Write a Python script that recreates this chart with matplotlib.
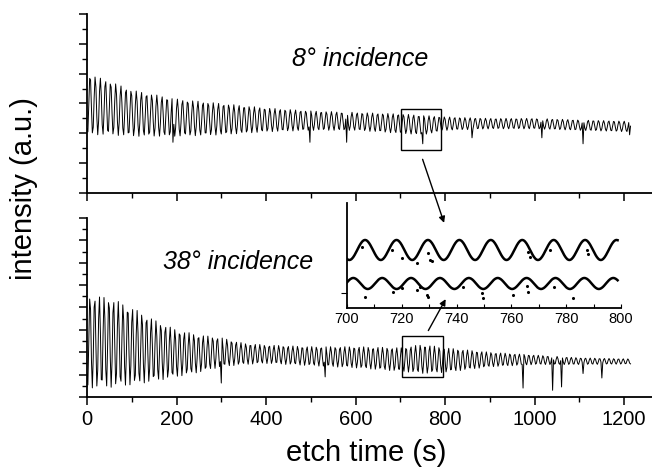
import numpy as np
import matplotlib
matplotlib.use("Agg")
import matplotlib.pyplot as plt
from matplotlib.patches import Rectangle
from matplotlib.ticker import MultipleLocator

plt.rcParams["font.family"] = ["Liberation Sans", "DejaVu Sans"]

# --- values ---
# 8 deg incidence: envelope of the fast oscillation (upper / lower), a.u.
t_env8 = [0, 50, 100, 200, 300, 400, 500, 600, 700, 750, 800, 900, 1000, 1100, 1215]
upper8 = [8.0, 7.5, 6.9, 6.3, 6.0, 5.7, 5.5, 5.4, 5.3, 5.2, 5.1, 5.0, 5.0, 4.9, 4.8]
lower8 = [3.9, 3.9, 3.8, 3.8, 3.9, 4.1, 4.2, 4.2, 4.0, 3.9, 4.2, 4.3, 4.3, 4.2, 4.1]
period8 = 11.47      # s, from the inset
peak8 = 706.6        # s, a peak position from the inset
spike_t8 = [193, 498, 581, 751, 860, 1017, 1108, 1213]
spike_v8 = [3.4, 3.4, 3.4, 3.3, 3.7, 3.7, 3.3, 3.9]

# 38 deg incidence
t_env38 = [0, 50, 100, 150, 200, 250, 300, 350, 400, 500, 600, 700, 750, 800, 900, 1000, 1100, 1215]
upper38 = [9.1, 8.9, 8.0, 6.9, 6.0, 5.55, 5.3, 4.8, 4.65, 4.5, 4.5, 4.4, 4.7, 4.4, 4.0, 3.75, 3.5, 3.4]
lower38 = [0.8, 0.85, 1.07, 1.4, 1.8, 2.2, 2.7, 2.9, 3.0, 2.8, 2.6, 2.3, 2.1, 2.2, 2.7, 2.9, 2.9, 2.95]
period38 = 10.54
peak38 = 702.3
spike_t38 = [300, 532, 975, 1041, 1061, 1108, 1150]
spike_v38 = [1.25, 1.8, 0.8, 0.6, 0.9, 2.1, 1.7]

# inset (700-800 s), rescaled traces
inset_mid = [5.8, 2.45]
inset_amp = [1.0, 0.55]
out_t_top = [705.4, 716.3, 720.0, 725.4, 729.7, 730.3, 730.9, 766.2, 766.8, 774.1, 787.5, 788.1]
out_v_top = [6.13, 5.8, 4.97, 4.47, 5.47, 4.8, 4.73, 5.63, 5.13, 5.8, 5.8, 5.4]
out_t_bot = [706.6, 716.9, 720.0, 725.4, 726.6, 729.1, 729.7, 742.5, 749.2, 749.8, 760.7, 765.6, 766.2, 775.4, 782.6]
out_v_bot = [1.07, 1.63, 1.97, 1.8, 2.13, 1.3, 1.07, 2.13, 1.47, 0.97, 1.3, 2.2, 1.63, 2.07, 0.97]


def trace(t, t_env, up, lo, period, t0, spike_t=(), spike_v=()):
    up_i = np.interp(t, t_env, up)
    lo_i = np.interp(t, t_env, lo)
    y = (up_i + lo_i) / 2 + (up_i - lo_i) / 2 * np.cos(2 * np.pi * (t - t0) / period)
    for ts, vs in zip(spike_t, spike_v):
        y[np.argmin(np.abs(t - ts))] = vs
    return y


def style(ax):
    ax.spines["top"].set_visible(False)
    ax.spines["right"].set_visible(False)
    for s in ("left", "bottom"):
        ax.spines[s].set_linewidth(1.3)


fig = plt.figure(figsize=(6.52, 4.69), dpi=100)
ax_top = fig.add_axes([0.1334, 0.5885, 0.8666, 0.3817])
ax_bot = fig.add_axes([0.1334, 0.1535, 0.8666, 0.3817])

t = np.arange(0, 1216, 2.0)
y8 = trace(t, t_env8, upper8, lower8, period8, peak8, spike_t8, spike_v8)
y38 = trace(t, t_env38, upper38, lower38, period38, peak38, spike_t38, spike_v38)

ax_top.plot(t, y8, color="k", lw=0.7)
ax_bot.plot(t, y38, color="k", lw=0.7)

for ax, ylim in ((ax_top, 12), (ax_bot, 16)):
    style(ax)
    ax.set_xlim(0, 1262)
    ax.set_ylim(0, ylim)
    ax.xaxis.set_major_locator(MultipleLocator(200))
    ax.xaxis.set_minor_locator(MultipleLocator(100))
    ax.yaxis.set_major_locator(MultipleLocator(2))
    ax.yaxis.set_minor_locator(MultipleLocator(1))
    ax.tick_params(which="major", direction="out", length=6, width=1.1, labelsize=14.5, pad=3)
    ax.tick_params(which="minor", direction="out", length=3.5, width=1.0)
    ax.set_yticklabels([])

ax_top.set_xticklabels([])

ax_top.text(610, 9.0, "8° incidence", style="italic", fontsize=18, ha="center", va="center")
ax_bot.text(337, 12.1, "38° incidence", style="italic", fontsize=18, ha="center", va="center")

ax_top.add_patch(Rectangle((701, 2.87), 90, 2.73, fill=False, lw=1.0, ec="k"))
ax_bot.add_patch(Rectangle((704, 1.79), 91, 3.67, fill=False, lw=1.0, ec="k"))

fig.text(0.037, 0.597, "intensity (a.u.)", rotation=90, fontsize=21, ha="center", va="center")
fig.text(0.562, 0.034, "etch time (s)", fontsize=21, ha="center", va="center")

# inset
ax_in = fig.add_axes([0.5322, 0.3433, 0.4203, 0.2239])
ax_in.set_facecolor("white")
style(ax_in)
ti = np.arange(700, 799, 0.25)
top_in = inset_mid[0] + inset_amp[0] * np.cos(2 * np.pi * (ti - peak8) / period8)
bot_in = inset_mid[1] + inset_amp[1] * np.cos(2 * np.pi * (ti - peak38) / period38)
ax_in.plot(ti, top_in, color="k", lw=1.8)
ax_in.plot(ti, bot_in, color="k", lw=1.8)
ax_in.scatter(out_t_top, out_v_top, s=1.5, color="k")
ax_in.scatter(out_t_bot, out_v_bot, s=1.5, color="k")
ax_in.set_xlim(700, 800)
ax_in.set_ylim(0, 10.5)
ax_in.xaxis.set_major_locator(MultipleLocator(20))
ax_in.xaxis.set_minor_locator(MultipleLocator(10))
ax_in.set_yticks([1.5])
ax_in.set_yticklabels([])
ax_in.tick_params(axis="x", which="both", direction="in", length=3, width=0.8, labelsize=10.5, pad=3)
ax_in.tick_params(axis="y", direction="out", length=4, width=0.8)

# arrows from the boxes to the inset
arrow = dict(arrowstyle="-|>", lw=1.0, color="k", mutation_scale=9)
fig.add_artist(plt.Annotation("", xy=(0.6825, 0.5192), xytext=(0.6468, 0.6659),
                              xycoords="figure fraction", arrowprops=arrow))
fig.add_artist(plt.Annotation("", xy=(0.6856, 0.3674), xytext=(0.6549, 0.2900),
                              xycoords="figure fraction", arrowprops=arrow))

fig.savefig("out.png", dpi=100)
